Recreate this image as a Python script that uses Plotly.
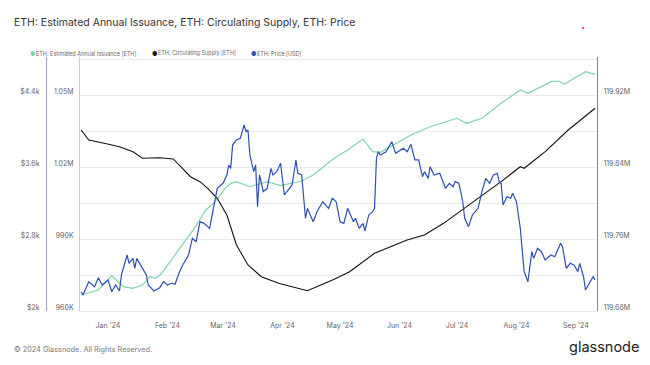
import plotly.graph_objects as go

# ---------------- data ----------------
supply_dates = ["2023-12-18", "2023-12-22", "2023-12-30", "2024-01-07", "2024-01-14", "2024-01-19",
                "2024-01-28", "2024-02-04", "2024-02-08", "2024-02-13", "2024-02-18", "2024-02-22",
                "2024-02-27", "2024-03-03", "2024-03-08", "2024-03-14", "2024-03-21", "2024-03-30",
                "2024-04-06", "2024-04-14", "2024-04-21", "2024-04-28", "2024-05-06", "2024-05-19",
                "2024-06-05", "2024-06-14", "2024-06-24", "2024-07-06", "2024-07-14", "2024-07-24",
                "2024-08-03", "2024-08-05", "2024-08-16", "2024-08-28", "2024-09-11"]
supply_values = [119.8811e6, 119.8700e6, 119.8663e6, 119.8625e6, 119.8570e6, 119.8497e6,
                 119.8503e6, 119.8489e6, 119.8403e6, 119.8292e6, 119.8237e6, 119.8163e6,
                 119.8052e6, 119.7867e6, 119.7533e6, 119.7311e6, 119.7181e6, 119.7108e6,
                 119.7070e6, 119.7026e6, 119.7089e6, 119.7152e6, 119.7237e6, 119.7441e6,
                 119.7589e6, 119.7644e6, 119.7774e6, 119.7959e6, 119.8089e6, 119.8237e6,
                 119.8403e6, 119.8386e6, 119.8570e6, 119.8811e6, 119.9052e6]

issuance_dates = ["2023-12-18", "2023-12-27", "2024-01-03", "2024-01-09", "2024-01-14", "2024-01-19",
                  "2024-01-23", "2024-01-26", "2024-01-29", "2024-02-06", "2024-02-15", "2024-02-21",
                  "2024-02-26", "2024-03-02", "2024-03-05", "2024-03-08", "2024-03-15", "2024-03-24",
                  "2024-03-31", "2024-04-11", "2024-04-17", "2024-04-28", "2024-05-05", "2024-05-13",
                  "2024-05-18", "2024-05-22", "2024-05-31", "2024-06-07", "2024-06-17", "2024-07-01",
                  "2024-07-06", "2024-07-14", "2024-07-24", "2024-08-03", "2024-08-07", "2024-08-12",
                  "2024-08-19", "2024-08-23", "2024-08-26", "2024-08-31", "2024-09-06", "2024-09-11"]
issuance_values = [966667, 968750, 974708, 970125, 969458, 970833,
                   974292, 973625, 975708, 984708, 994458, 1002083,
                   1005542, 1011125, 1013208, 1013875, 1011792, 1013875,
                   1012208, 1014167, 1016667, 1023625, 1027083, 1031667,
                   1026375, 1026125, 1030292, 1033333, 1036792, 1040292,
                   1038208, 1040292, 1046542, 1052083, 1050708, 1052792,
                   1055542, 1055833, 1054458, 1056958, 1059708, 1058625]

price_dates = ["2023-12-18", "2023-12-19", "2023-12-22", "2023-12-25", "2023-12-27", "2023-12-29",
               "2024-01-01", "2024-01-03", "2024-01-05", "2024-01-07", "2024-01-08", "2024-01-11",
               "2024-01-12", "2024-01-14", "2024-01-15", "2024-01-16", "2024-01-19", "2024-01-21",
               "2024-01-22", "2024-01-25", "2024-01-28", "2024-01-30", "2024-02-01", "2024-02-03",
               "2024-02-05", "2024-02-07", "2024-02-09", "2024-02-12", "2024-02-14", "2024-02-16",
               "2024-02-18", "2024-02-20", "2024-02-22", "2024-02-23", "2024-02-27", "2024-03-01",
               "2024-03-03", "2024-03-04", "2024-03-05", "2024-03-06", "2024-03-08", "2024-03-10",
               "2024-03-12", "2024-03-13", "2024-03-14", "2024-03-15", "2024-03-17", "2024-03-18",
               "2024-03-19", "2024-03-20", "2024-03-22", "2024-03-24", "2024-03-26", "2024-03-27",
               "2024-03-29", "2024-03-31", "2024-04-02", "2024-04-04", "2024-04-06", "2024-04-08",
               "2024-04-09", "2024-04-11", "2024-04-13", "2024-04-14", "2024-04-17", "2024-04-19",
               "2024-04-22", "2024-04-25", "2024-04-27", "2024-04-29", "2024-05-01", "2024-05-03",
               "2024-05-05", "2024-05-08", "2024-05-09", "2024-05-11", "2024-05-13", "2024-05-14",
               "2024-05-16", "2024-05-18", "2024-05-19", "2024-05-20", "2024-05-21", "2024-05-22",
               "2024-05-25", "2024-05-28", "2024-05-30", "2024-06-03", "2024-06-05", "2024-06-07",
               "2024-06-09", "2024-06-11", "2024-06-13", "2024-06-14", "2024-06-16", "2024-06-17",
               "2024-06-19", "2024-06-22", "2024-06-25", "2024-06-27", "2024-06-29", "2024-06-30",
               "2024-07-02", "2024-07-04", "2024-07-05", "2024-07-07", "2024-07-09", "2024-07-12",
               "2024-07-14", "2024-07-16", "2024-07-18", "2024-07-20", "2024-07-22", "2024-07-23",
               "2024-07-24", "2024-07-25", "2024-07-27", "2024-07-29", "2024-07-30", "2024-08-01",
               "2024-08-03", "2024-08-05", "2024-08-07", "2024-08-09", "2024-08-10", "2024-08-12",
               "2024-08-14", "2024-08-16", "2024-08-19", "2024-08-21", "2024-08-24", "2024-08-25",
               "2024-08-27", "2024-08-29", "2024-08-31", "2024-09-02", "2024-09-03", "2024-09-05",
               "2024-09-06", "2024-09-08", "2024-09-10", "2024-09-11"]
price_values = [2214, 2178, 2326, 2270, 2370, 2289,
                2344, 2214, 2289, 2222, 2400, 2622,
                2530, 2585, 2474, 2585, 2474, 2400,
                2289, 2222, 2259, 2326, 2289, 2308,
                2297, 2419, 2511, 2622, 2808, 2770,
                2992, 2974, 2937, 2919, 3363, 3419,
                3511, 3622, 3585, 3844, 3900, 3919,
                4067, 3992, 4011, 3733, 3548, 3622,
                3159, 3511, 3326, 3363, 3585, 3511,
                3548, 3641, 3289, 3344, 3400, 3678,
                3530, 3511, 3030, 3141, 2992, 3103,
                3214, 3141, 3252, 3214, 2992, 2974,
                3141, 2992, 3030, 2919, 2974, 2889,
                3067, 3103, 3141, 3700, 3770, 3733,
                3770, 3881, 3752, 3808, 3770, 3852,
                3678, 3678, 3492, 3548, 3474, 3603,
                3511, 3530, 3363, 3419, 3381, 3437,
                3419, 3214, 3030, 2937, 3067, 3141,
                3326, 3474, 3419, 3511, 3530, 3437,
                3419, 3178, 3270, 3252, 3308, 3214,
                2919, 2437, 2326, 2659, 2585, 2697,
                2659, 2567, 2622, 2603, 2752, 2714,
                2474, 2530, 2511, 2437, 2530, 2381,
                2233, 2308, 2381, 2344]

month_ticks = ["2024-01-01", "2024-02-01", "2024-03-01", "2024-04-01", "2024-05-01",
               "2024-06-01", "2024-07-01", "2024-08-01", "2024-09-01"]
month_labels = ["Jan '24", "Feb '24", "Mar '24", "Apr '24", "May '24",
                "Jun '24", "Jul '24", "Aug '24", "Sep '24"]

issuance_grid = [960000, 975000, 990000, 1005000, 1020000, 1035000, 1050000, 1065000]
issuance_labels = ["960K", "", "990K", "", "1.02M", "", "1.05M", ""]
price_ticks = [2000, 2800, 3600, 4400]
price_labels = ["$2k", "$2.8k", "$3.6k", "$4.4k"]
supply_ticks = [119.68e6, 119.76e6, 119.84e6, 119.92e6]
supply_labels = ["119.68M", "119.76M", "119.84M", "119.92M"]

GREEN = "#7dd6a8"
BLACK = "#111111"
BLUE = "#2d4fb4"
FONT = "Inter, Roboto, sans-serif"
TICKFONT = dict(family=FONT, size=7, color="#666666")

# The page body has an 8px margin; lay the figure out in page pixels minus that.
OFF = 8
W, H = 650 - OFF, 365 - OFF
PLOT_L, PLOT_R, PLOT_T, PLOT_B = 80, 597, 57, 311   # page pixels of the plot area


def px_x(X):
    return (X - OFF) / W


def px_y(Y):
    return (PLOT_B - Y) / (PLOT_B - PLOT_T)


fig = go.Figure()
fig.add_trace(go.Scatter(x=issuance_dates, y=issuance_values, mode="lines",
                         name="ETH: Estimated Annual Issuance [ETH]",
                         line=dict(color=GREEN, width=1.2), yaxis="y"))
fig.add_trace(go.Scatter(x=supply_dates, y=supply_values, mode="lines",
                         name="ETH: Circulating Supply [ETH]",
                         line=dict(color=BLACK, width=1.1), yaxis="y2"))
fig.add_trace(go.Scatter(x=price_dates, y=price_values, mode="lines",
                         name="ETH: Price [USD]",
                         line=dict(color=BLUE, width=1.2), yaxis="y3"))

fig.update_layout(
    width=W, height=H,
    margin=dict(l=0, r=0, t=PLOT_T - OFF, b=H - (PLOT_B - OFF)),
    paper_bgcolor="white", plot_bgcolor="white",
    showlegend=False,
    font=dict(family=FONT),
    xaxis=dict(domain=[px_x(PLOT_L), px_x(PLOT_R)],
               range=["2023-12-17 10:00", "2024-09-12 00:00"],
               tickvals=month_ticks, ticktext=month_labels, showgrid=False,
               showline=True, linecolor="#e6e6e6", ticks="", tickfont=TICKFONT,
               ticklabelstandoff=8, zeroline=False),
    yaxis=dict(range=[960000, 1065833], tickvals=issuance_grid, ticktext=issuance_labels,
               showgrid=True, gridcolor="#ebebeb", gridwidth=1, showline=True,
               linecolor="#a8e3c5", linewidth=1, ticks="", tickfont=TICKFONT,
               ticklabelstandoff=4, ticklabelshift=-3, zeroline=False),
    yaxis2=dict(range=[119.68e6, 119.9622e6], overlaying="y", side="right", anchor="x",
                tickvals=supply_ticks, ticktext=supply_labels, showgrid=False,
                showline=True, linecolor="#8a8a8a", linewidth=1, ticks="",
                tickfont=TICKFONT, ticklabelstandoff=4, ticklabelshift=-3, zeroline=False),
    yaxis3=dict(range=[2000, 4822], overlaying="y", side="left", anchor="free",
                position=px_x(46), tickvals=price_ticks, ticktext=price_labels,
                showgrid=False, showline=True, linecolor="#9ba3bd", linewidth=1.2,
                ticks="", tickfont=TICKFONT, ticklabelstandoff=5, ticklabelshift=-3,
                zeroline=False),
)

annotations = [
    dict(text="ETH: Estimated Annual Issuance, ETH: Circulating Supply, ETH: Price",
         x=px_x(12), y=px_y(22), xref="paper", yref="paper", xanchor="left", yanchor="middle",
         showarrow=False, font=dict(size=10.5, color="#333333", family=FONT)),
    dict(text="© 2024 Glassnode. All Rights Reserved.", x=px_x(12), y=px_y(349),
         xref="paper", yref="paper", xanchor="left", yanchor="middle", showarrow=False,
         font=dict(size=7.3, color="#777777", family=FONT)),
    dict(text="glassnode", x=px_x(641), y=px_y(347), xref="paper", yref="paper",
         xanchor="right", yanchor="middle", showarrow=False,
         font=dict(size=14.5, color="#222222", family=FONT)),
]
legend_items = [("ETH: Estimated Annual Issuance [ETH]", GREEN, 28),
                ("ETH: Circulating Supply [ETH]", BLACK, 150),
                ("ETH: Price [USD]", BLUE, 249)]
for label, color, lx in legend_items:
    annotations.append(dict(text="●", x=px_x(lx), y=px_y(53), xref="paper", yref="paper",
                            xanchor="left", yanchor="middle", showarrow=False,
                            font=dict(size=6, color=color)))
    annotations.append(dict(text=label, x=px_x(lx + 6), y=px_y(53), xref="paper", yref="paper",
                            xanchor="left", yanchor="middle", showarrow=False,
                            font=dict(size=5.5, color="#666666", family=FONT)))
fig.update_layout(annotations=annotations)

fig.add_shape(type="circle", xref="paper", yref="paper",
              x0=px_x(582), x1=px_x(584), y0=px_y(29), y1=px_y(27),
              fillcolor="#d62728", line=dict(width=0))

fig.write_html("out.html")
